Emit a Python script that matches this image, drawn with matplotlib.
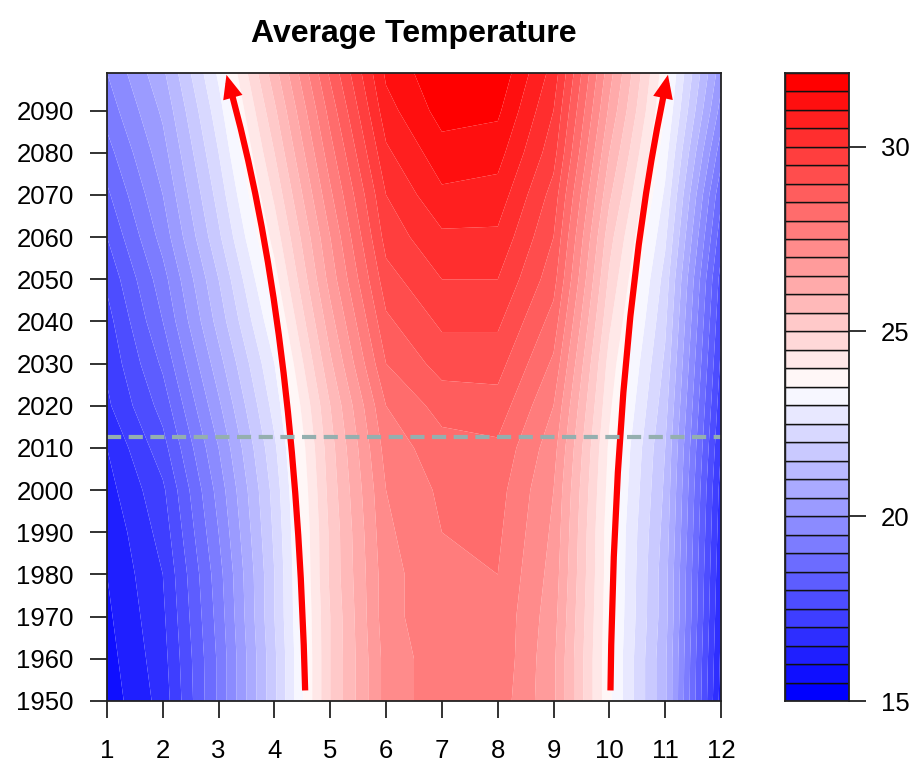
import numpy as np
import matplotlib
matplotlib.use("Agg")
import matplotlib.pyplot as plt
from matplotlib.patches import FancyArrowPatch
from matplotlib.path import Path

plt.rcParams['font.family'] = ['Liberation Sans', 'DejaVu Sans']

# ---- data -------------------------------------------------------------
months = [1, 2, 3, 4, 5, 6, 7, 8, 9, 10, 11, 12]
years = [1950, 1960, 1970, 1980, 1990, 2000, 2010, 2020,
         2030, 2040, 2050, 2060, 2070, 2080, 2090, 2099]

# monthly mean temperature (deg C) for each year above
jan = [15.7, 15.8, 15.9, 16.0, 16.1, 16.3, 16.5, 16.9, 17.1, 17.3, 17.6, 18.0, 18.4, 18.8, 19.2, 19.5]
feb = [16.7, 16.8, 16.9, 17.0, 17.2, 17.4, 17.8, 18.2, 18.6, 19.0, 19.3, 19.7, 20.0, 20.3, 20.6, 20.9]
mar = [19.1, 19.1, 19.2, 19.3, 19.5, 19.7, 20.0, 20.4, 20.8, 21.2, 21.5, 21.9, 22.2, 22.5, 22.8, 23.1]
apr = [21.9, 21.9, 22.0, 22.0, 22.1, 22.2, 22.4, 22.7, 23.0, 23.4, 23.8, 24.2, 24.6, 25.0, 25.4, 25.8]
may = [25.0, 25.0, 25.0, 25.1, 25.1, 25.2, 25.3, 25.5, 25.9, 26.3, 26.7, 27.0, 27.4, 27.8, 28.2, 28.6]
jun = [27.2, 27.2, 27.3, 27.3, 27.4, 27.5, 27.7, 28.0, 28.5, 28.9, 29.3, 29.7, 30.0, 30.4, 30.8, 31.1]
jul = [27.8, 27.8, 27.9, 27.9, 28.0, 28.1, 28.3, 28.7, 29.2, 29.6, 30.0, 30.4, 30.9, 31.3, 31.7, 31.9]
aug = [27.8, 27.9, 27.9, 28.0, 28.1, 28.2, 28.4, 28.8, 29.2, 29.6, 30.0, 30.4, 30.8, 31.2, 31.6, 31.9]
sep = [26.6, 26.6, 26.7, 26.8, 26.9, 27.0, 27.2, 27.5, 27.9, 28.3, 28.7, 29.0, 29.3, 29.7, 30.0, 30.3]
oct_ = [23.6, 23.6, 23.65, 23.7, 23.7, 23.8, 23.9, 24.1, 24.3, 24.6, 24.9, 25.2, 25.6, 26.0, 26.4, 26.7]
nov = [21.1, 21.1, 21.2, 21.2, 21.3, 21.4, 21.5, 21.7, 21.9, 22.1, 22.3, 22.6, 22.9, 23.2, 23.5, 23.7]
dec = [16.3, 16.4, 16.5, 16.6, 16.7, 16.8, 17.0, 17.2, 17.4, 17.6, 17.8, 18.2, 18.6, 19.2, 19.8, 20.2]

# contour levels of the colour key
level_min, level_max, level_step = 15.0, 32.0, 0.5
key_ticks = [15, 20, 25, 30]
x_ticks = months
y_ticks = [1950, 1960, 1970, 1980, 1990, 2000, 2010, 2020,
           2030, 2040, 2050, 2060, 2070, 2080, 2090]

# reference year and isotherm-shift arrows (start, control, end)
ref_year = 2012.5
left_arrow = [(4.55, 1952.5), (4.38, 2040.0), (3.14, 2098.5)]
right_arrow = [(10.02, 1952.5), (10.10, 2040.0), (11.05, 2098.5)]

# ---- figure -----------------------------------------------------------
W, H = 913, 766
fig = plt.figure(figsize=(W / 100, H / 100), dpi=100)

def px_axes(x0, y0, x1, y1):
    return fig.add_axes([x0 / W, 1 - y1 / H, (x1 - x0) / W, (y1 - y0) / H])

ax = px_axes(107, 72.7, 721, 701)
cax = px_axes(785, 72.7, 849, 701)

Z = np.column_stack([jan, feb, mar, apr, may, jun, jul, aug, sep, oct_, nov, dec])
levels = np.arange(level_min, level_max + level_step / 2, level_step)
n = len(levels) - 1
cols = []
for k in range(n):
    t = k / (n - 1)
    if t <= 0.5:
        v = 2 * t
        cols.append((v, v, 1.0))
    else:
        v = 2 - 2 * t
        cols.append((1.0, v, v))

ax.contourf(months, years, Z, levels=levels, colors=cols, antialiased=True)
ax.set_xlim(min(months), max(months))
ax.set_ylim(min(years), max(years))

# reference line
ax.axhline(ref_year, color='#94AFAF', lw=3.0, dashes=(3.4, 1.8))

# arrows
for pts in (left_arrow, right_arrow):
    path = Path(pts, [Path.MOVETO, Path.CURVE3, Path.CURVE3])
    arr = FancyArrowPatch(path=path, arrowstyle='-|>,head_length=0.45,head_width=0.19',
                          mutation_scale=20, color='#FF0000', lw=4.5,
                          capstyle='butt', joinstyle='miter')
    ax.add_patch(arr)

spine_col = '#222222'
for s in ax.spines.values():
    s.set_color(spine_col)
    s.set_linewidth(1.3)
ax.set_xticks(x_ticks)
ax.set_yticks(y_ticks)
ax.tick_params(axis='both', length=12, width=1.3, color=spine_col,
               labelsize=18.5, direction='out')
ax.tick_params(axis='x', pad=15)
ax.tick_params(axis='y', pad=12)

ax.set_title('Average Temperature', fontsize=23, fontweight='bold', pad=22)

# colour key
for k in range(n):
    cax.bar(0.5, levels[k + 1] - levels[k], bottom=levels[k], width=1.0,
            color=cols[k], edgecolor='#111111', linewidth=1.0)
cax.set_xlim(0, 1)
cax.set_ylim(level_min, level_max)
cax.set_xticks([])
cax.yaxis.tick_right()
cax.set_yticks(key_ticks)
cax.tick_params(axis='y', length=12, width=1.3, color=spine_col,
                labelsize=18.5, pad=11)
for s in cax.spines.values():
    s.set_color(spine_col)
    s.set_linewidth(1.3)

fig.savefig('out.png', dpi=100)
